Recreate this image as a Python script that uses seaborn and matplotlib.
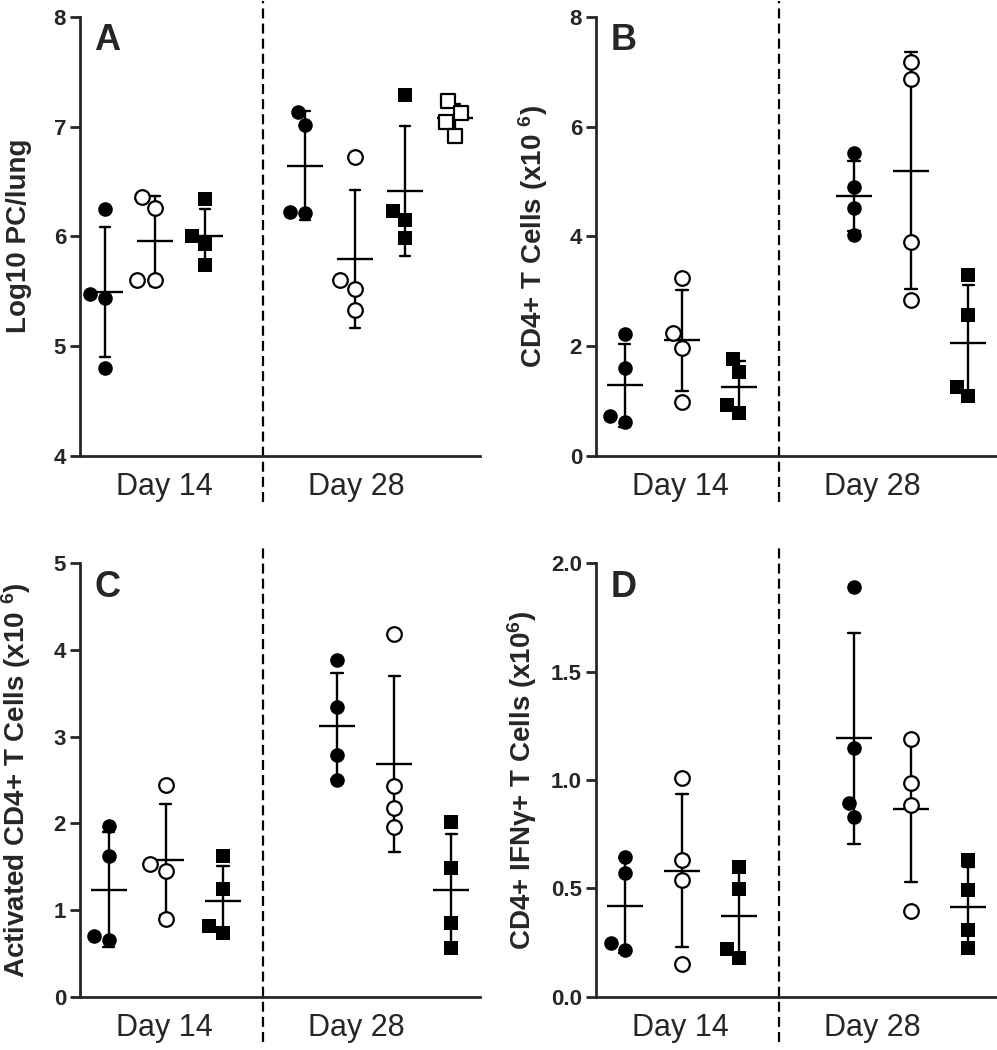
import numpy as np
import pandas as pd
import seaborn as sns
import matplotlib.pyplot as plt

sns.set_style('ticks')
plt.rcParams['font.family'] = ['Liberation Sans', 'DejaVu Sans']
plt.rcParams['mathtext.fontset'] = 'custom'
plt.rcParams['mathtext.rm'] = 'Liberation Sans'
plt.rcParams['mathtext.bf'] = 'Liberation Sans:bold'
plt.rcParams['mathtext.default'] = 'bf'

# order of groups inside each day
styles = ['filled circle', 'open circle', 'filled square', 'open square']
days = ['Day 14', 'Day 28']

# A - Log10 PC/lung
a_day14 = [[6.25, 5.47, 5.44, 4.80], [6.36, 6.26, 5.60, 5.60], [6.34, 6.00, 5.93, 5.74]]
a_day28 = [[7.13, 7.01, 6.21, 6.22], [6.72, 5.60, 5.52, 5.33],
           [7.29, 6.23, 6.15, 5.98], [7.23, 7.12, 7.04, 6.91]]

# B - CD4+ T cells (x10^6)
b_day14 = [[2.21, 1.60, 0.72, 0.62], [3.23, 2.23, 1.97, 0.97], [1.77, 1.53, 0.92, 0.77]]
b_day28 = [[5.52, 4.90, 4.51, 4.02], [7.18, 6.87, 3.89, 2.84], [3.29, 2.56, 1.26, 1.08]]

# C - activated CD4+ T cells (x10^6)
c_day14 = [[1.97, 1.62, 0.70, 0.65], [2.44, 1.53, 1.45, 0.90], [1.62, 1.24, 0.82, 0.74]]
c_day28 = [[3.88, 3.34, 2.79, 2.50], [4.18, 2.43, 2.18, 1.96], [2.02, 1.48, 0.85, 0.56]]

# D - CD4+ IFNg+ T cells (x10^6)
d_day14 = [[0.646, 0.569, 0.249, 0.215], [1.008, 0.631, 0.538, 0.149], [0.600, 0.497, 0.218, 0.177]]
d_day28 = [[1.892, 1.149, 0.895, 0.831], [1.188, 0.988, 0.885, 0.397], [0.631, 0.492, 0.308, 0.226]]

a_yticks = [4, 5, 6, 7, 8]
b_yticks = [0, 2, 4, 6, 8]
c_yticks = [0, 1, 2, 3, 4, 5]
d_yticks = [0.0, 0.5, 1.0, 1.5, 2.0]


def make_frame(day14, day28):
    n14 = len(day14)
    rows = []
    for i, vals in enumerate(day14):
        for v in vals:
            rows.append({'pos': i + 0.5, 'value': v, 'style': styles[i]})
    for i, vals in enumerate(day28):
        for v in vals:
            rows.append({'pos': n14 + 1 + i + 0.5, 'value': v, 'style': styles[i]})
    return pd.DataFrame(rows), n14 + 1 + len(day28)


def draw_panel(ax, letter, day14, day28, ylabel, yticks, fmt, label_x):
    df, xmax = make_frame(day14, day28)

    for pos, sub in df.groupby('pos'):
        style = sub['style'].iloc[0]
        filled = style.startswith('filled')
        sns.swarmplot(data=sub, x='pos', y='value', native_scale=True, orient='x', ax=ax,
                      marker='o' if style.endswith('circle') else 's', size=10.5,
                      color='black' if filled else 'white', edgecolor='black',
                      linewidth=0 if filled else 1.6)

    # mean +/- SD
    sns.pointplot(data=df, x='pos', y='value', native_scale=True, orient='x', ax=ax,
                  errorbar='sd', capsize=0.2, color='black', markers='_',
                  markersize=26, markeredgewidth=1.7, linestyle='none',
                  err_kws={'linewidth': 1.7})

    ax.set_xlim(0, xmax)
    ax.set_ylim(yticks[0], yticks[-1])
    ax.set_yticks(yticks, labels=[fmt.format(t) for t in yticks], fontweight='bold')
    ax.set_xticks([0.21 * xmax, 0.69 * xmax], labels=days)
    ax.tick_params(axis='x', length=0, pad=11.5, labelsize=22)
    ax.tick_params(axis='y', length=7, width=2, pad=3, labelsize=16)
    ax.set_xlabel('')
    ax.set_ylabel(ylabel, fontsize=20, fontweight='bold')
    ax.yaxis.set_label_coords(label_x, 0.5)
    sns.despine(ax=ax)
    for s in ['left', 'bottom']:
        ax.spines[s].set_linewidth(2)

    ax.plot([0.4575, 0.4575], [-0.105, 1.037], transform=ax.transAxes, clip_on=False,
            color='black', lw=1.6, linestyle=(0, (4.5, 2.3)))
    ax.text(0.036, 0.985, letter, transform=ax.transAxes, fontsize=26,
            fontweight='bold', va='top', ha='left')


fig = plt.figure(figsize=(9.97, 10.5), dpi=100)
ax_a = fig.add_axes([0.0802, 0.566, 0.4012, 0.418])
ax_b = fig.add_axes([0.5978, 0.566, 0.4022, 0.418])
ax_c = fig.add_axes([0.0802, 0.0508, 0.4012, 0.4127])
ax_d = fig.add_axes([0.5978, 0.0508, 0.4022, 0.4127])

draw_panel(ax_a, 'A', a_day14, a_day28, 'Log10 PC/lung', a_yticks, '{:.0f}', -0.12)
draw_panel(ax_b, 'B', b_day14, b_day28, 'CD4+ T Cells (x10 $^{6}$)', b_yticks, '{:.0f}', -0.115)
draw_panel(ax_c, 'C', c_day14, c_day28, 'Activated CD4+ T Cells (x10 $^{6}$)', c_yticks, '{:.0f}', -0.117)
draw_panel(ax_d, 'D', d_day14, d_day28, 'CD4+ IFNγ+ T Cells (x10$^{6}$)', d_yticks, '{:.1f}', -0.142)

plt.savefig('out.png', dpi=100)
